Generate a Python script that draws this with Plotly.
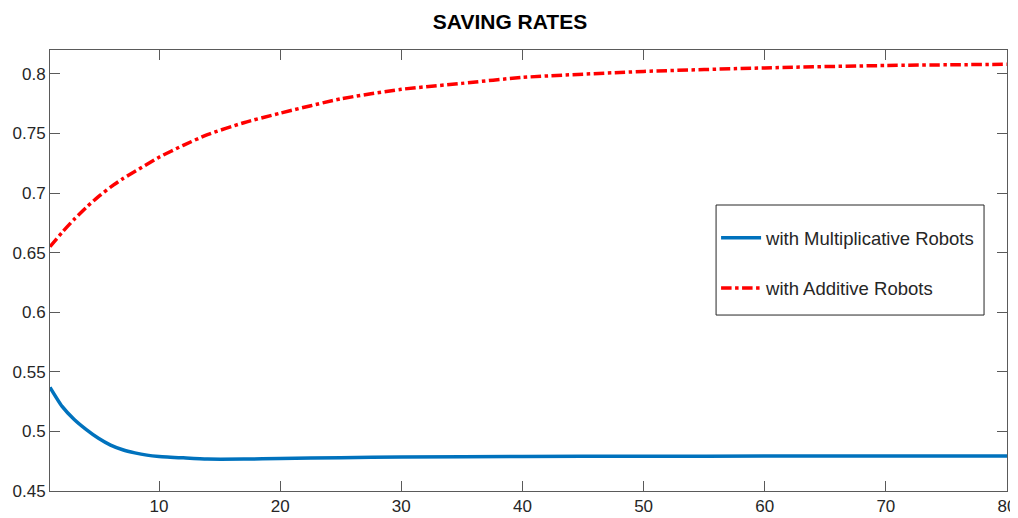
import plotly.graph_objects as go

# Data
period_mult = [1, 2, 3, 4, 5, 6, 7, 8, 9, 10, 12, 14, 17, 20, 25, 30, 40, 50, 60, 80]
saving_mult = [0.537, 0.521, 0.510, 0.5015, 0.4942, 0.4885, 0.4846, 0.482, 0.4801, 0.479,
               0.4778, 0.4768, 0.4768, 0.4772, 0.478, 0.4785, 0.479, 0.4792, 0.4793, 0.4794]

period_add = [1, 2, 3, 4, 5, 6, 7, 8, 10, 12, 14, 17, 20, 25, 30, 35, 40, 50, 60, 70, 80]
saving_add = [0.655, 0.667, 0.678, 0.688, 0.697, 0.705, 0.712, 0.718, 0.730, 0.740, 0.749,
              0.759, 0.767, 0.779, 0.787, 0.792, 0.797, 0.802, 0.805, 0.807, 0.808]

x_ticks = [10, 20, 30, 40, 50, 60, 70, 80]
y_ticks = [0.45, 0.5, 0.55, 0.6, 0.65, 0.7, 0.75, 0.8]
y_ticktext = ["0.45", "0.5", "0.55", "0.6", "0.65", "0.7", "0.75", "0.8"]

title_text = "SAVING RATES"
name_mult = "with Multiplicative Robots"
name_add = "with Additive Robots"

FONT = "Liberation Sans, Arial, sans-serif"
AXC = "#5a5a5a"

fig = go.Figure()
fig.add_trace(go.Scatter(
    x=period_mult, y=saving_mult, mode="lines", name=name_mult,
    line=dict(color="#0072BD", width=3.5, shape="spline", smoothing=0.6),
    legendgroup="a",
))
fig.add_trace(go.Scatter(
    x=period_add, y=saving_add, mode="lines", name=name_add,
    line=dict(color="#FF0000", width=3.5, dash="dashdot", shape="spline", smoothing=0.6),
    legendgroup="b",
))

# legend frame (drawn in paper coordinates)
fig.add_shape(type="rect", xref="paper", yref="paper",
              x0=0.696, x1=0.976, y0=0.399, y1=0.6485,
              line=dict(color="#262626", width=1), fillcolor="white", layer="below")

fig.update_layout(
    width=1010, height=510,
    margin=dict(l=42, r=11, t=42, b=27),
    paper_bgcolor="white", plot_bgcolor="white",
    font=dict(family=FONT, size=17, color="#262626"),
    title=dict(text="<b>" + title_text + "</b>", x=0.497, xanchor="center",
               y=0.9725, yanchor="middle", font=dict(family=FONT, size=21, color="#000000")),
    showlegend=True,
    legend=dict(
        x=0.696, y=0.616, xanchor="left", yanchor="top",
        bgcolor="rgba(0,0,0,0)", borderwidth=0,
        font=dict(family=FONT, size=18.5, color="#262626"),
        tracegroupgap=23, traceorder="grouped", itemwidth=40,
    ),
)
fig.update_xaxes(
    range=[1, 80], tickvals=x_ticks, ticks="inside", ticklen=10, tickcolor=AXC,
    showline=True, linecolor=AXC, linewidth=1, mirror="ticks", automargin=False,
    showgrid=False, zeroline=False, tickfont=dict(size=17, color="#262626"),
)
fig.update_yaxes(
    range=[0.45, 0.82], tickvals=y_ticks, ticktext=y_ticktext, ticks="inside",
    ticklen=10, tickcolor=AXC, automargin=False,
    showline=True, linecolor=AXC, linewidth=1, mirror="ticks",
    showgrid=False, zeroline=False, tickfont=dict(size=17, color="#262626"),
)

fig.write_html("out.html")
